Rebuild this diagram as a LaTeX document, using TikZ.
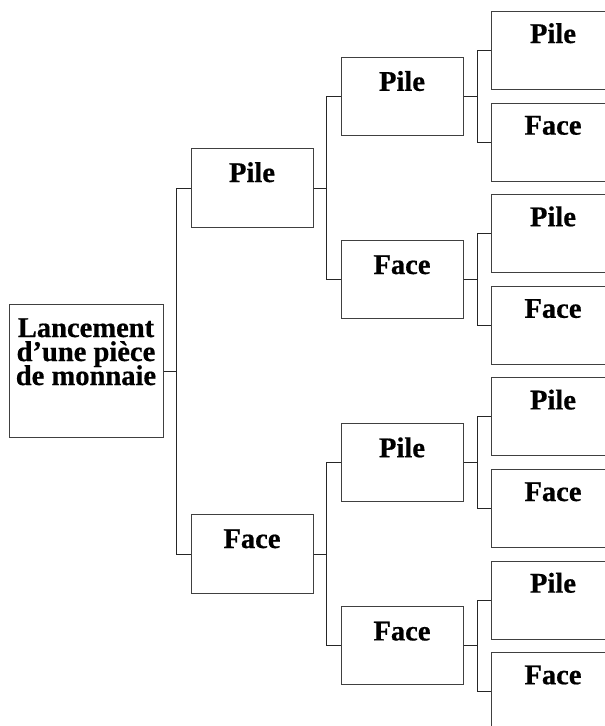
\documentclass[tikz,border=0pt]{standalone}
\usepackage{fontspec}
\setmainfont{Liberation Serif}[BoldFeatures={FakeBold=0.6}]
\usetikzlibrary{calc}
\begin{document}
% keep label lines at a fixed distance, however tall their letters
\lineskiplimit=-30pt
\begin{tikzpicture}[
  x=0.75pt, y=-0.75pt,
  box/.style={draw=black!75, line width=0.75pt, rectangle, inner sep=0pt, fill=white},
  rootbox/.style={box, minimum width=154*0.75pt, minimum height=133*0.75pt},
  lvbox/.style={box, minimum width=122*0.75pt, minimum height=78*0.75pt},
  leafbox/.style={box, minimum width=124*0.75pt, minimum height=78*0.75pt},
  lbl/.style={font=\fontsize{21.4}{18}\selectfont\bfseries,
              inner sep=0pt, anchor=base, align=center},
  wire/.style={draw=black!85, line width=0.75pt}
]
\useasboundingbox (0,0) rectangle (605,726);
\clip (0,0) rectangle (605,726);

% root (the base anchor of a multi-line label sits on its last line)
\node[rootbox] (root) at (86,371) {};
\node[lbl] (roott) at ($(root.north)+(0,81)$) {Lancement\\d’une pièce\\de monnaie};

% first throw
\node[lvbox, minimum height=79*0.75pt] (a1) at (252,188) {};
\node[lvbox, minimum height=79*0.75pt] (a2) at (252,554) {};
% second throw
\node[lvbox] (b1) at (402,96.3) {};
\node[lvbox] (b2) at (402,279.5) {};
\node[lvbox] (b3) at (402,462.7) {};
\node[lvbox] (b4) at (402,645.9) {};
% third throw
\foreach \i/\yy in {1/50.5,2/142.1,3/233.7,4/325.3,5/416.9,6/508.5,7/600.1,8/691.7}
  \node[leafbox] (c\i) at (553,\yy) {};

% labels
\node[lbl] at ($(a1.north)+(0,34)$) {Pile};
\node[lbl] at ($(a2.north)+(0,34)$) {Face};
\foreach \n/\t in {b1/Pile,b2/Face,b3/Pile,b4/Face}
  \node[lbl] at ($(\n.north)+(0,34)$) {\t};
\foreach \n/\t in {c1/Pile,c2/Face,c3/Pile,c4/Face,c5/Pile,c6/Face,c7/Pile,c8/Face}
  \node[lbl] at ($(\n.north)+(0,32)$) {\t};

% junction points
\coordinate (j0) at ($(root.east)+(13,0)$);
\coordinate (j1) at ($(a1.east)+(13,0)$);
\coordinate (j2) at ($(a2.east)+(13,0)$);
\coordinate (k1) at ($(b1.east)+(14,0)$);
\coordinate (k2) at ($(b2.east)+(14,0)$);
\coordinate (k3) at ($(b3.east)+(14,0)$);
\coordinate (k4) at ($(b4.east)+(14,0)$);

% connectors
\draw[wire] (root.east) -- (j0);
\draw[wire] (a1.west) -| (j0) |- (a2.west);
\draw[wire] (a1.east) -- (j1);
\draw[wire] (b1.west) -| (j1) |- (b2.west);
\draw[wire] (a2.east) -- (j2);
\draw[wire] (b3.west) -| (j2) |- (b4.west);
\draw[wire] (b1.east) -- (k1);
\draw[wire] (c1.west) -| (k1) |- (c2.west);
\draw[wire] (b2.east) -- (k2);
\draw[wire] (c3.west) -| (k2) |- (c4.west);
\draw[wire] (b3.east) -- (k3);
\draw[wire] (c5.west) -| (k3) |- (c6.west);
\draw[wire] (b4.east) -- (k4);
\draw[wire] (c7.west) -| (k4) |- (c8.west);
\end{tikzpicture}
\end{document}
